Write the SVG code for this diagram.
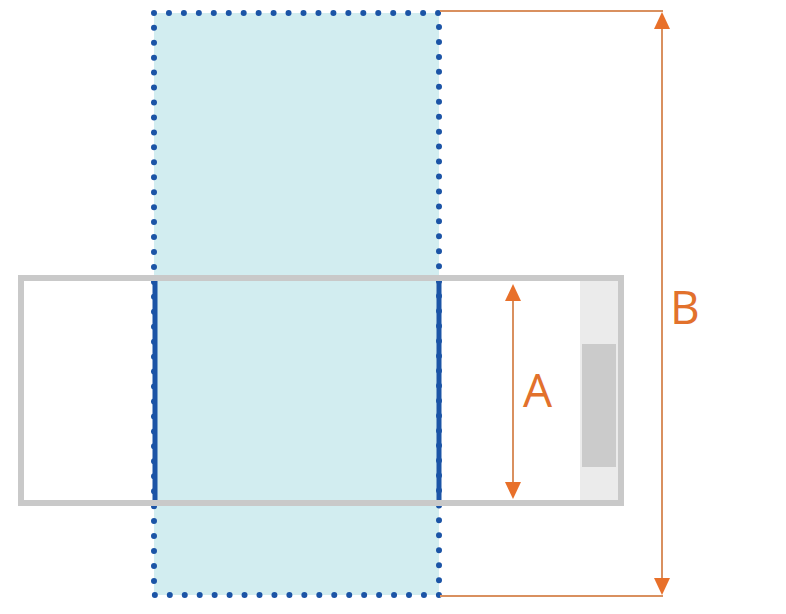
<svg xmlns="http://www.w3.org/2000/svg" width="786" height="614" viewBox="0 0 786 614">
<defs>
<style>
.dim{stroke:#d9905f;stroke-width:2;fill:none}
.head{fill:#e8702a}
.lbl{font-family:"Open Sans","Liberation Sans",sans-serif;font-size:46px;fill:#e2712c}
</style>
</defs>
<rect width="786" height="614" fill="#ffffff"/>
<g id="zone">
<rect x="154" y="13" width="285" height="582" fill="#d2edf0"/>
<rect x="154" y="13" width="285" height="582" fill="none" stroke="#1b54a6" stroke-width="6" stroke-linecap="round" stroke-dasharray="0 14.95"/>
</g>
<g id="frame">
<rect x="21" y="278" width="600" height="225" fill="none" stroke="#c9c9c9" stroke-width="6"/>
<rect x="580" y="281" width="38" height="219" fill="#ebebeb"/>
<rect x="582" y="344" width="34" height="123" fill="#cbcbcb"/>
<line x1="155" y1="281" x2="155" y2="500" stroke="#1b54a6" stroke-width="5"/>
<line x1="439" y1="281" x2="439" y2="500" stroke="#1b54a6" stroke-width="5"/>
</g>
<g id="connectors">
<line class="dim" x1="513" y1="296" x2="513" y2="486"/>
<polygon class="head" points="513,284 505,301 521,301"/>
<polygon class="head" points="513,499 505,482 521,482"/>
<line class="dim" x1="440" y1="11" x2="663" y2="11"/>
<line class="dim" x1="440" y1="596" x2="663" y2="596"/>
<line class="dim" x1="662" y1="24" x2="662" y2="584"/>
<polygon class="head" points="662,12 654,29 670,29"/>
<polygon class="head" points="662,595 654,578 670,578"/>
</g>
<g id="labels">
<text class="lbl" x="523" y="407">A</text>
<text class="lbl" x="670" y="324">B</text>
</g>
</svg>
